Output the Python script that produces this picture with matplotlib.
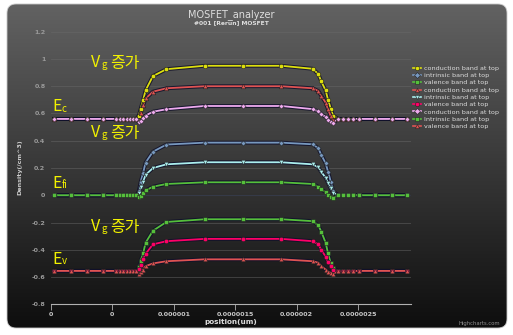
import numpy as np
import matplotlib
matplotlib.use("Agg")
import matplotlib.pyplot as plt
from matplotlib.patches import FancyBboxPatch
from matplotlib.lines import Line2D
import matplotlib.patheffects as pe

# ---- data -------------------------------------------------------------
# positions in units of 1e-6
pos_scaled = [0.025, 0.16, 0.29, 0.42, 0.53, 0.56, 0.59, 0.62, 0.645, 0.67, 0.695,
              0.715, 0.73, 0.75, 0.77, 0.83, 0.94, 1.25, 1.5625, 1.875, 2.13,
              2.175, 2.20, 2.235, 2.255, 2.277, 2.296,
              2.337, 2.377, 2.418, 2.454, 2.508, 2.636, 2.772, 2.899]

ec_base = 0.56
ei_base = 0.0
ev_base = -0.555

cond1_mid = [0.585, 0.635, 0.70, 0.77, 0.875, 0.925, 0.95, 0.95, 0.95, 0.928,
             0.89, 0.835, 0.77, 0.70, 0.635, 0.585]
intr1_mid = [0.03, 0.10, 0.165, 0.24, 0.32, 0.372, 0.386, 0.386, 0.386, 0.374,
             0.345, 0.296, 0.235, 0.173, 0.10, 0.03]
val1_mid = [-0.53, -0.48, -0.426, -0.348, -0.26, -0.196, -0.176, -0.176, -0.176, -0.19,
            -0.22, -0.267, -0.348, -0.426, -0.50, -0.536]
cond2_mid = [0.55, 0.60, 0.66, 0.71, 0.76, 0.785, 0.80, 0.80, 0.80, 0.785,
             0.765, 0.73, 0.68, 0.63, 0.58, 0.55]
intr2_mid = [0.02, 0.06, 0.10, 0.15, 0.20, 0.227, 0.242, 0.242, 0.242, 0.227,
             0.205, 0.17, 0.13, 0.09, 0.05, 0.02]
val2_mid = [-0.54, -0.51, -0.47, -0.43, -0.36, -0.337, -0.32, -0.32, -0.32, -0.337,
            -0.36, -0.40, -0.45, -0.49, -0.52, -0.55]
cond3_mid = [0.535, 0.545, 0.565, 0.585, 0.613, 0.631, 0.655, 0.655, 0.655, 0.632,
             0.615, 0.595, 0.575, 0.555, 0.54, 0.53]
intr3_mid = [-0.015, -0.005, 0.015, 0.035, 0.063, 0.083, 0.095, 0.095, 0.095, 0.083,
             0.063, 0.044, 0.022, 0.005, -0.01, -0.02]
val3_mid = [-0.577, -0.565, -0.545, -0.52, -0.50, -0.484, -0.47, -0.47, -0.47, -0.484,
            -0.495, -0.52, -0.545, -0.56, -0.57, -0.577]

series_names = ["conduction band at top", "intrinsic band at top", "valence band at top",
                "conduction band at top", "intrinsic band at top", "valence band at top",
                "conduction band at top", "Intrinsic band at top", "valence band at top"]
series_colors = ["#DDDF0D", "#7798BF", "#55BF3B", "#DF5353", "#aaeeee",
                 "#ff0066", "#eeaaee", "#55BF3B", "#DF5353"]
series_markers = ["o", "D", "s", "^", "v", "o", "D", "s", "^"]

x_tick_vals = [0, 0.5e-6, 1.0e-6, 1.5e-6, 2.0e-6, 2.5e-6]
x_tick_labels = ["0", "0", "0.000001", "0.0000015", "0.000002", "0.0000025"]
y_tick_vals = [-0.8, -0.6, -0.4, -0.2, 0, 0.2, 0.4, 0.6, 0.8, 1.0, 1.2]
y_tick_labels = ["-0.8", "-0.6", "-0.4", "-0.2", "0", "0.2", "0.4", "0.6", "0.8", "1", "1.2"]


def full_series(base, mid):
    return [base] * 11 + list(mid) + [base] * 8


x = np.array(pos_scaled) * 1e-6
series_values = [
    full_series(ec_base, cond1_mid),
    full_series(ei_base, intr1_mid),
    full_series(ev_base, val1_mid),
    full_series(ec_base, cond2_mid),
    full_series(ei_base, intr2_mid),
    full_series(ev_base, val2_mid),
    full_series(ec_base, cond3_mid),
    full_series(ei_base, intr3_mid),
    full_series(ev_base, val3_mid),
]

# ---- figure -----------------------------------------------------------
W, H = 513, 335
fig = plt.figure(figsize=(W / 100, H / 100), dpi=100)
fig.patch.set_facecolor("white")


def fx(px):
    return px / W


def fy(py):
    return 1 - py / H


# dark rounded chart background with vertical gradient
bg = fig.add_axes([0, 0, 1, 1], zorder=-5)
bg.set_xlim(0, W)
bg.set_ylim(H, 0)
bg.axis("off")
grad = np.linspace(0, 1, 256)[:, None]
top = np.array([0x62, 0x62, 0x62]) / 255
bot = np.array([0x0e, 0x0e, 0x0e]) / 255
img = top[None, None, :] * (1 - grad[..., None]) + bot[None, None, :] * grad[..., None]
im = bg.imshow(img, extent=[7, 507, 328, 4], aspect="auto", interpolation="bilinear")
box = FancyBboxPatch((7, 4), 500, 324, boxstyle="round,pad=0,rounding_size=9",
                     facecolor="none", edgecolor="#c8c8c8", linewidth=0.6)
bg.add_patch(box)
im.set_clip_path(box)

# plot area
ax = fig.add_axes([fx(51), fy(304.3), fx(411) - fx(51), fy(31.7) - fy(304.3)])
ax.set_facecolor("none")
ax.set_xlim(0, 2.93e-6)
ax.set_ylim(-0.8, 1.2)

for yv in y_tick_vals:
    ax.axhline(yv, color="#6a6a6a" if yv != 0 else "#3c4766", lw=0.6, alpha=0.55, zorder=0)

shadow = [pe.withStroke(linewidth=2.8, foreground="#10102a", alpha=0.85)]
for vals, name, col, mk in zip(series_values, series_names, series_colors, series_markers):
    ms = 3.2
    if mk == "D":
        ms = 2.6
    if mk in ("^", "v"):
        ms = 3.3
    ax.plot(x, vals, color=col, lw=1.3, path_effects=shadow, zorder=3)
    ax.plot(x, vals, linestyle="none", marker=mk, markersize=ms,
            markerfacecolor=col, markeredgecolor="#222222", markeredgewidth=0.4,
            zorder=4, label=name)

for side in ["top", "right", "left"]:
    ax.spines[side].set_visible(False)
ax.spines["bottom"].set_color("#b0b0b0")
ax.spines["bottom"].set_linewidth(0.8)

ax.set_xticks(x_tick_vals)
ax.set_xticklabels(x_tick_labels)
ax.set_yticks(y_tick_vals)
ax.set_yticklabels(y_tick_labels)
ax.tick_params(axis="x", colors="#b0b0b0", length=4, width=0.6, pad=1.5,
               labelsize=4.6, labelcolor="#c8c8c8")
ax.tick_params(axis="y", length=0, pad=4, labelsize=4.6, labelcolor="#999999")
for lab in ax.get_xticklabels() + ax.get_yticklabels():
    lab.set_fontweight("bold")

ax.set_xlabel("position(um)", color="#dddddd", fontsize=5.2, fontweight="bold", labelpad=1.5)
fig.text(fx(20), fy(167.5), "Density(/cm^3)", rotation=90, color="#cccccc",
         fontsize=4.6, fontweight="bold", ha="center", va="center")

# titles
fig.text(fx(231), fy(14.3), "MOSFET_analyzer", color="#dddddd", fontsize=7,
         ha="center", va="center")
fig.text(fx(231), fy(22.3), "#001 [Rerun] MOSFET", color="#dddddd", fontsize=4.3,
         fontweight="bold", ha="center", va="center")

# legend
handles = [Line2D([0], [0], color=c, lw=1.2, marker=m, markersize=3.0,
                  markerfacecolor=c, markeredgecolor="#222222", markeredgewidth=0.4)
           for c, m in zip(series_colors, series_markers)]
leg = fig.legend(handles, series_names, loc="upper left",
                 bbox_to_anchor=(fx(413), fy(65.5)), frameon=False, fontsize=4.6,
                 handlelength=1.3, handletextpad=0.5, labelspacing=0.28,
                 borderaxespad=0, borderpad=0)
for t in leg.get_texts():
    t.set_color("#dddddd")

# annotations
kr = ["Noto Sans CJK KR", "DejaVu Sans"]
ycol = "#f2f200"
for top_y in (67, 137, 231):
    fig.text(fx(91), fy(top_y), "V", color=ycol, fontsize=11.5, family=kr, va="baseline")
    fig.text(fx(101), fy(top_y + 1.5), "g", color=ycol, fontsize=7, family=kr, va="baseline")
    fig.text(fx(110), fy(top_y + 1), "증가", color=ycol, fontsize=11.5, family=kr, va="baseline")

for base_y, sub in ((111, "c"), (188, "fi"), (264, "v")):
    fig.text(fx(52), fy(base_y), "E", color=ycol, fontsize=11.5, family=kr, va="baseline")
    fig.text(fx(62), fy(base_y + 0.5), sub, color=ycol, fontsize=7, family=kr, va="baseline")

fig.text(fx(500), fy(324), "Highcharts.com", color="#909090", fontsize=3.8,
         ha="right", va="center")

fig.savefig("out.png", dpi=100, facecolor="white")
